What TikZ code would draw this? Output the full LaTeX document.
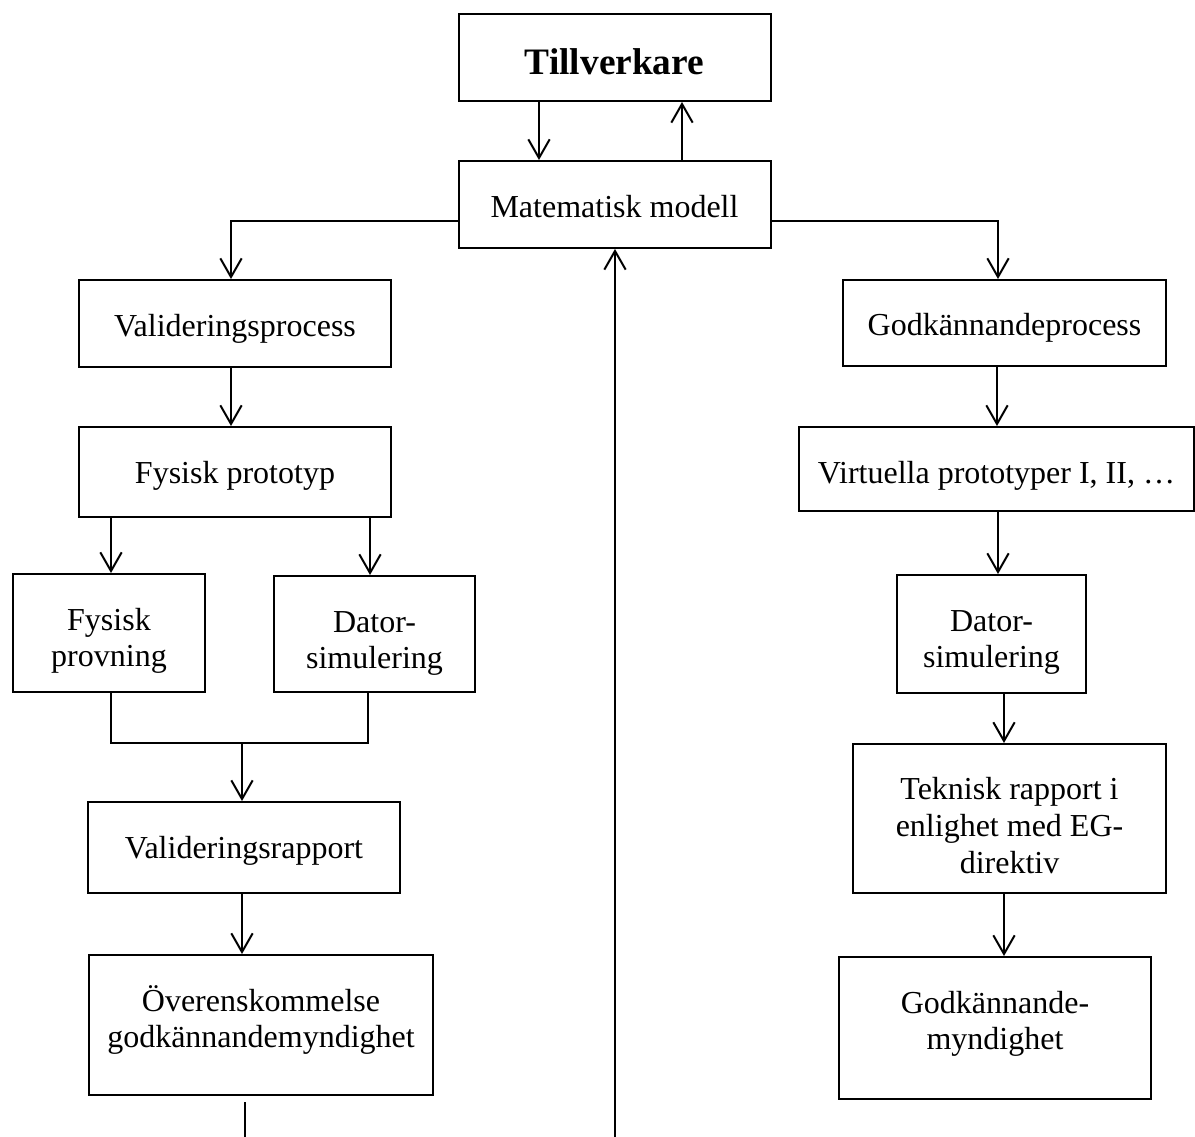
\documentclass[tikz,border=0pt,12pt]{standalone}
\usepackage{fontspec}
\setmainfont{Liberation Serif}
\usetikzlibrary{arrows.meta}
\newcommand{\boxlines}[1]{\begin{tabular}[t]{@{}c@{}}#1\end{tabular}}

\begin{document}
\begin{tikzpicture}[x=0.375pt, y=-0.375pt, line width=0.75pt,  >={Straight Barb[length=7pt,width=8pt]},  box/.style={draw, rectangle, inner sep=0pt, text height=21pt, font=\fontsize{12}{13.8}\selectfont}]
  \useasboundingbox (0,0) rectangle (1195,1137);

  \node[box, minimum width=117pt, text height=22.5pt, text depth=10.1pt, font=\fontsize{14}{16}\selectfont\bfseries] (till) at (614.5,57.5) {Tillverkare};
  \node[box, minimum width=117pt, text depth=11.6pt] (mat) at (614.5,204.5) {Matematisk modell};

  \node[box, minimum width=117pt, text depth=11.6pt] (valp) at (235,323.5) {Valideringsprocess};
  \node[box, minimum width=117pt, text depth=12.75pt] (fproto) at (235,472) {Fysisk prototyp};
  \node[box, minimum width=72pt, text depth=23.25pt] (fprov) at (109,633) {\boxlines{Fysisk\\provning}};
  \node[box, minimum width=75.4pt, text depth=22.5pt] (dsima) at (374.5,634) {\boxlines{Dator-\\simulering}};
  \node[box, minimum width=117pt, text depth=13.1pt] (vrapp) at (244,847.5) {Valideringsrapport};
  \node[box, minimum width=129pt, text depth=31.5pt] (overens) at (261,1025) {\boxlines{Överenskommelse\\godkännandemyndighet}};

  \node[box, minimum width=121.1pt, text depth=11.25pt] (godp) at (1004.5,323) {Godkännandeprocess};
  \node[box, minimum width=148.1pt, text depth=10.5pt] (virt) at (996.5,469) {Virtuella prototyper I, II, …};
  \node[box, minimum width=70.9pt, text depth=23.25pt] (dsimb) at (991.5,634) {\boxlines{Dator-\\simulering}};
  \node[box, minimum width=117.4pt, text depth=34.9pt] (tekn) at (1009.5,818.5) {\boxlines{Teknisk rapport i\\enlighet med EG-\\direktiv}};
  \node[box, minimum width=117pt, text depth=32.25pt] (godm) at (995,1028) {\boxlines{Godkännande-\\myndighet}};

  \coordinate (join) at (242,743);
  \coordinate (leftend) at (245,1137);
  \coordinate (midend) at (615,1137);

  \draw[->] (till.south -| 539,0) -- (mat.north -| 539,0);
  \draw[->] (mat.north -| 682,0) -- (till.south -| 682,0);
  \draw[->] (mat.west |- 0,221) -| (valp.north -| 231,0);
  \draw[->] (mat.east |- 0,221) -| (godp.north -| 998,0);
  \draw[->] (midend) -- (mat.south -| midend);

  \draw[->] (valp.south -| 231,0) -- (fproto.north -| 231,0);
  \draw[->] (fproto.south -| 111,0) -- (fprov.north -| 111,0);
  \draw[->] (fproto.south -| 370,0) -- (dsima.north -| 370,0);
  \draw (fprov.south -| 111,0) |- (join) -| (dsima.south -| 368,0);
  \draw[->] (join) -- (vrapp.north -| join);
  \draw[->] (vrapp.south -| 242,0) -- (overens.north -| 242,0);
  \draw ([yshift=-2.25pt]overens.south -| leftend) -- (leftend);

  \draw[->] (godp.south -| 997,0) -- (virt.north -| 997,0);
  \draw[->] (virt.south -| 998,0) -- (dsimb.north -| 998,0);
  \draw[->] (dsimb.south -| 1004,0) -- (tekn.north -| 1004,0);
  \draw[->] (tekn.south -| 1004,0) -- (godm.north -| 1004,0);
\end{tikzpicture}
\end{document}
